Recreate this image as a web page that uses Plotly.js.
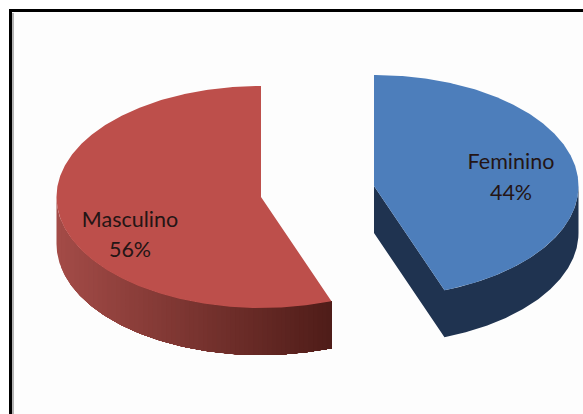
<!DOCTYPE html>
<html><head><meta charset="utf-8">
<script src="https://cdn.plot.ly/plotly-3.0.1.min.js"></script>
<style>html,body{margin:0;padding:0;background:#fff;overflow:hidden}#c{width:583px;height:414px}</style>
</head><body><div id="c"></div>
<script>
const categories = ['Masculino', 'Feminino'];
const shares = [55.6, 44.4];
const topColors = ['#bd4f4b', '#4d7ebb'];
const sideColorsFrom = [[163, 75, 71], [31, 51, 80]];
const sideColorsTo = [[78, 28, 24], [31, 51, 80]];
const centers = [[261, 197], [374, 186]];
const rx = 204.5, ry = 111, depth = 47;
const labelPos = [[130, 222, 252], [511, 164, 195]];

const rad = d => d * Math.PI / 180;
const pt = (c, deg, dy = 0) => [c[0] + rx * Math.sin(rad(deg)), c[1] - ry * Math.cos(rad(deg)) + dy];
function arc(c, a, b, dy = 0) {
  const n = Math.max(2, Math.ceil(Math.abs(b - a) * 2)), out = [];
  for (let i = 0; i <= n; i++) out.push(pt(c, a + (b - a) * i / n, dy));
  return out;
}
function poly(points, color, line) {
  return { type: 'scatter', mode: 'lines', x: points.map(p => p[0]), y: points.map(p => p[1]),
    fill: 'toself', fillcolor: color, line: { color: color, width: line }, hoverinfo: 'skip', showlegend: false };
}
const mix = (a, b, t) => 'rgb(' + a.map((v, i) => Math.round(v + (b[i] - v) * t)).join(',') + ')';

const traces = [];
// Masculino: runs anticlockwise from the top of the ellipse
const mSweep = 360 * shares[0] / 100;
const mStart = 360 - mSweep;
const mc = centers[0];
const segs = 60;
const xLeft = pt(mc, 270)[0], xRight = pt(mc, mStart)[0];
for (let i = 0; i < segs; i++) {
  // each band runs to the far end of the wall and the next band paints over it, leaving no seams
  const t = i / segs;
  const xAt = xLeft + (xRight - xLeft) * t;
  const startDeg = Math.max(mStart, 180 + Math.asin((mc[0] - xAt) / rx) * 180 / Math.PI);
  traces.push(poly([...arc(mc, startDeg, mStart), ...arc(mc, mStart, startDeg, depth)],
    mix(sideColorsFrom[0], sideColorsTo[0], t), 0));
}
traces.push(poly([mc, ...arc(mc, mStart, 360), mc], topColors[0], 0));

// Feminino: runs clockwise from the top of the ellipse
const fSweep = 360 * shares[1] / 100;
const fc = centers[1];
traces.push(poly([fc, [fc[0], fc[1] + depth], ...arc(fc, fSweep, 90, depth), ...arc(fc, 90, fSweep), fc],
  mix(sideColorsFrom[1], sideColorsTo[1], 0), 0));
traces.push(poly([fc, ...arc(fc, 0, fSweep), fc], topColors[1], 0));

// Labels
categories.forEach((name, i) => {
  traces.push({ type: 'scatter', mode: 'text',
    x: [labelPos[i][0], labelPos[i][0]], y: [labelPos[i][1], labelPos[i][2]],
    text: [name, Math.round(shares[i]) + '%'], textposition: 'middle center',
    textfont: { family: 'Lato, Carlito, sans-serif', size: 21.5, color: '#241515' },
    hoverinfo: 'skip', showlegend: false, cliponaxis: false });
});

const layout = {
  width: 583, height: 414, margin: { l: 0, r: 0, t: 0, b: 0 },
  paper_bgcolor: '#ffffff', plot_bgcolor: '#ffffff', showlegend: false,
  xaxis: { range: [0, 583], visible: false, fixedrange: true },
  yaxis: { range: [414, 0], visible: false, fixedrange: true },
  shapes: [
    { type: 'rect', layer: 'below', x0: 12, x1: 583, y0: 12, y1: 414, fillcolor: '#fdfdfd', line: { width: 0 } },
    { type: 'rect', layer: 'below', x0: 9, x1: 583, y0: 9, y1: 12, fillcolor: '#000', line: { width: 0 } },
    { type: 'rect', layer: 'below', x0: 9, x1: 12, y0: 9, y1: 414, fillcolor: '#000', line: { width: 0 } },
    { type: 'rect', layer: 'below', x0: 12, x1: 14, y0: 13, y1: 414, fillcolor: '#b4b4b4', line: { width: 0 } }
  ]
};
Plotly.newPlot('c', traces, layout, { displayModeBar: false, staticPlot: true });
</script></body></html>
